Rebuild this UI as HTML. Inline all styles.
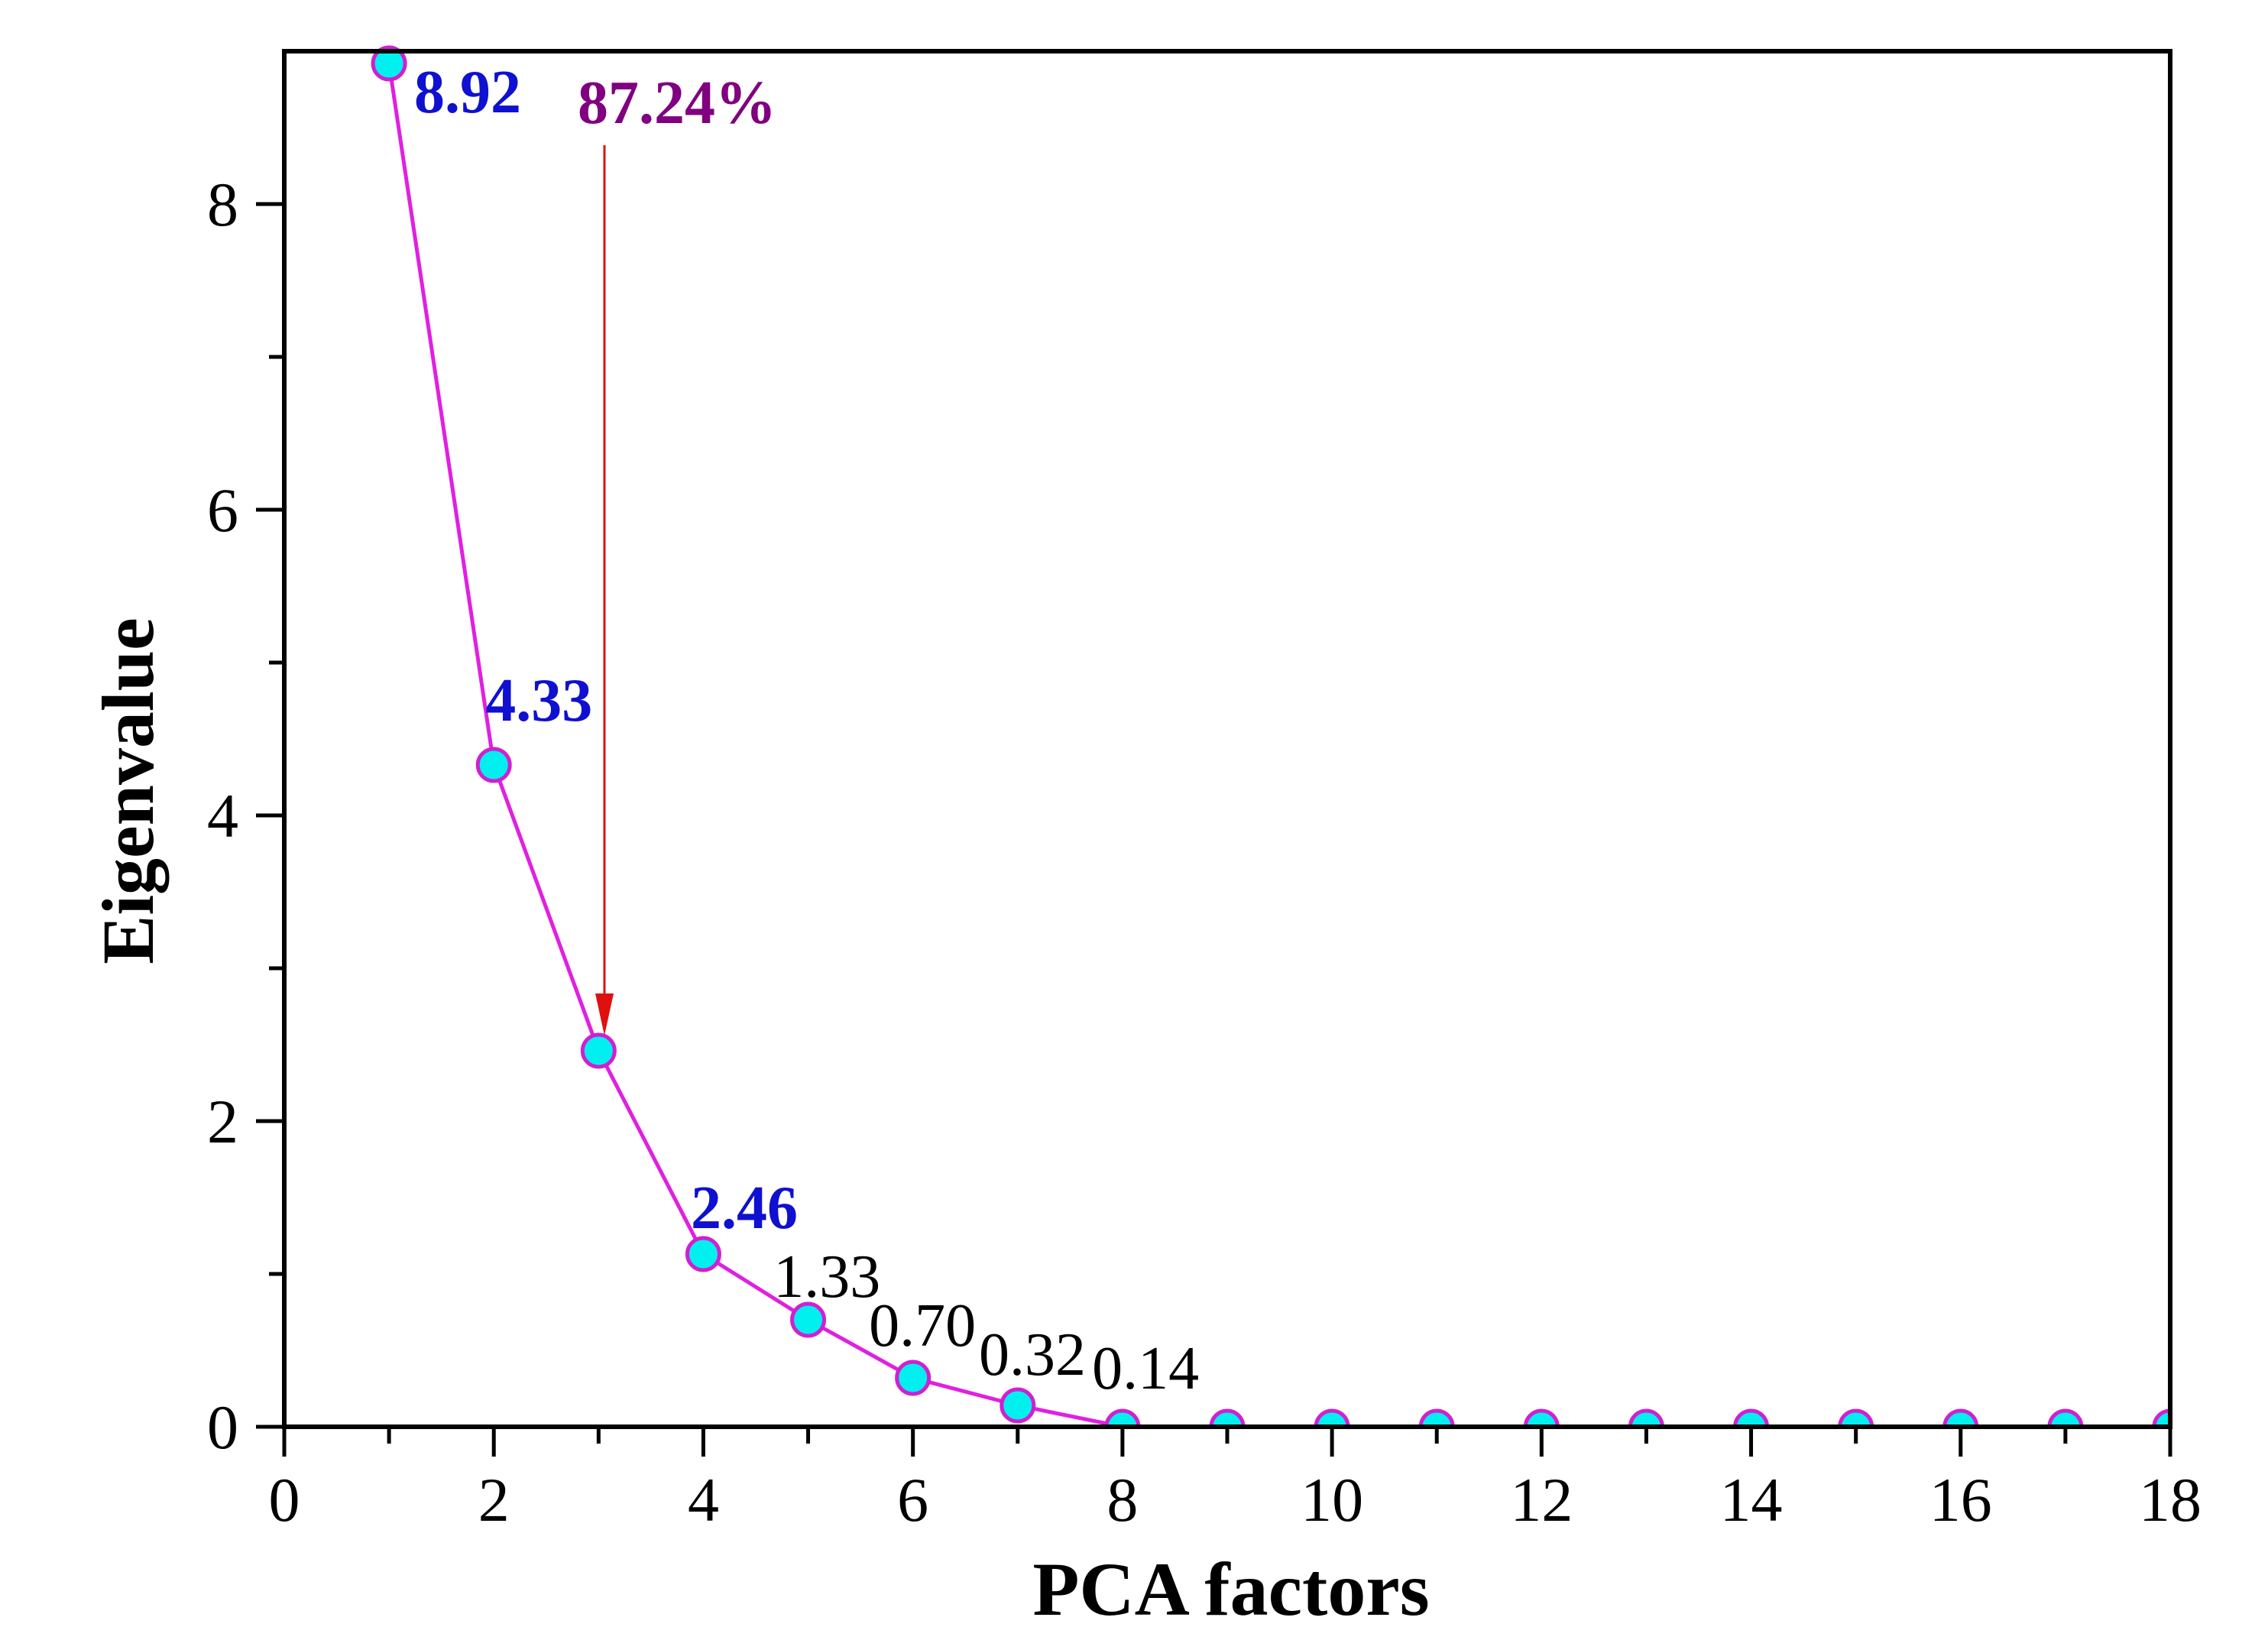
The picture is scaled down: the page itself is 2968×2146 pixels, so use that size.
<!DOCTYPE html>
<html><head><meta charset="utf-8"><style>
html,body{margin:0;padding:0;background:#fff;}
svg{display:block;font-family:"Liberation Serif",serif;}
</style></head><body>
<svg id="chart" width="2968" height="2146" viewBox="0 0 2968 2146">
<defs><clipPath id="plotclip"><rect x="372" y="40" width="2468" height="1827"/></clipPath></defs>
<g id="axes"></g><g id="series" clip-path="url(#plotclip)"></g><g id="labels"></g>
<text x="1611" y="2113" text-anchor="middle" font-weight="bold" font-size="100">PCA factors</text>
<text transform="translate(200,1035) rotate(-90)" text-anchor="middle" font-weight="bold" font-size="96">Eigenvalue</text>
</svg>
<script>
const factors=[1,2,3,4,5,6,7,8,9,10,11,12,13,14,15,16,17,18];
const eigenvalues=[8.92,4.33,2.46,1.13,0.70,0.32,0.14,0,0,0,0,0,0,0,0,0,0,0];
const xTicks=[0,2,4,6,8,10,12,14,16,18];
const yTicks=[0,2,4,6,8];
const annoText=["8.92","4.33","2.46","1.33","0.70","0.32","0.14"];
const annoX=[1.24,1.92,3.88,4.67,5.58,6.63,7.71];
const annoY=[8.6,4.62,1.3,0.85,0.53,0.34,0.25];
const annoBold=[true,true,true,false,false,false,false];
const NS="http://www.w3.org/2000/svg";
const L=372,R=2840,T=67,B=1867,XMAX=18,YMAX=9;
function sx(v){return L+v*(R-L)/XMAX;}
function sy(v){return B-v*(B-T)/YMAX;}
function mk(tag,attrs,parent,txt){const e=document.createElementNS(NS,tag);for(const k in attrs)e.setAttribute(k,attrs[k]);if(txt!==undefined)e.textContent=txt;parent.appendChild(e);return e;}
const ax=document.getElementById('axes'),se=document.getElementById('series'),lb=document.getElementById('labels');
for(let i=0;i<=XMAX;i++){const maj=i%2===0;let t=mk('line',{x1:sx(i),x2:sx(i),y1:B,y2:B+(maj?39:22),stroke:'#000','stroke-width':5},ax);

}
for(let i=0;i<=8;i++){const maj=i%2===0;let t=mk('line',{x1:L,x2:L-(maj?37:20),y1:sy(i),y2:sy(i),stroke:'#000','stroke-width':5},ax);

}
xTicks.forEach(v=>{let t=mk('text',{x:sx(v),y:1990,'text-anchor':'middle','font-size':82},ax,String(v));

});
yTicks.forEach(v=>{let t=mk('text',{x:312,y:sy(v)+28,'text-anchor':'end','font-size':82},ax,String(v));

});
let pts=factors.map((f,i)=>sx(f)+','+sy(eigenvalues[i])).join(' ');
let pl=mk('polyline',{points:pts,fill:'none',stroke:'#e020e0','stroke-width':5},se);


factors.forEach((f,i)=>{let c=mk('circle',{cx:sx(f),cy:sy(eigenvalues[i]),r:21,fill:'#00f0f0',stroke:'#d020d0','stroke-width':5},se);

});
let box=mk('rect',{x:L,y:T,width:R-L,height:B-T,fill:'none',stroke:'#000','stroke-width':6},ax.parentNode);


annoText.forEach((s,i)=>{let t=mk('text',{x:sx(annoX[i]),y:sy(annoY[i]),'font-size':80,'font-weight':annoBold[i]?'bold':'normal',fill:annoBold[i]?'#1010d0':'#000'},lb,s);

});
let pct=mk('text',{x:756,y:161,'font-size':80,'font-weight':'bold',fill:'#800080'},lb,'87.24%');


let ar=mk('line',{x1:791,x2:791,y1:190,y2:1310,stroke:'#e01010','stroke-width':3},lb);


let ah=mk('polygon',{points:'779,1300 803,1300 791,1355',fill:'#e01010'},lb);


</script>
</body></html>
